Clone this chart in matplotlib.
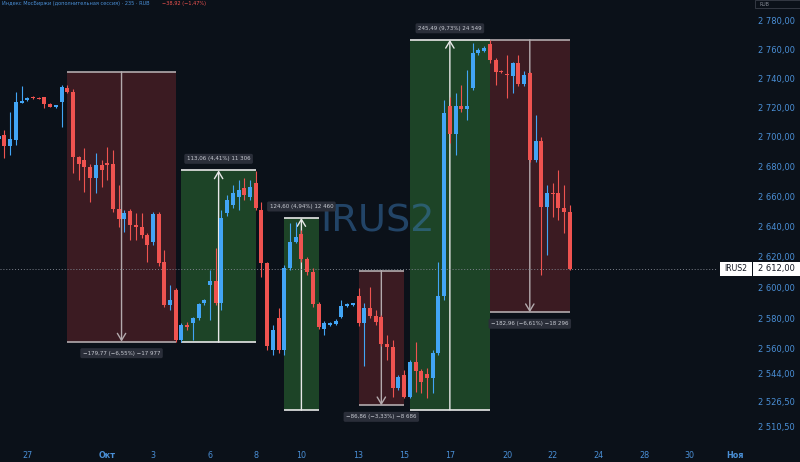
import matplotlib.pyplot as plt
from matplotlib.patches import Rectangle
from matplotlib.ticker import FixedLocator, FuncFormatter, NullLocator

# bars (one per candle, left to right)
opens = [2698.5, 2701.4, 2693.9, 2698.0, 2723.4, 2725.2, 2727.4, 2726.8, 2727.0, 2722.5,
         2720.7, 2724.0, 2733.6, 2730.8, 2686.3, 2684.5, 2680.0, 2672.2, 2681.1, 2682.3,
         2681.6, 2651.7, 2644.8, 2650.3, 2641.0, 2639.9, 2634.4, 2629.9, 2648.5, 2616.4,
         2588.5, 2598.2, 2565.9, 2575.5, 2576.7, 2579.9, 2589.6, 2601.5, 2604.3, 2589.6,
         2649.0, 2654.3, 2659.6, 2665.6, 2659.8, 2668.9, 2651.0, 2615.7, 2559.4, 2579.9,
         2559.4, 2612.4, 2629.9, 2635.1, 2618.4, 2610.2, 2589.1, 2572.8, 2575.5, 2576.2,
         2580.9, 2587.8, 2588.5, 2594.3, 2576.7, 2586.7, 2581.3, 2580.5, 2563.3, 2561.6,
         2534.9, 2543.4, 2529.5, 2551.9, 2546.0, 2544.0, 2541.2, 2557.3, 2594.3, 2721.1,
         2702.1, 2721.1, 2718.9, 2733.2, 2757.4, 2759.2, 2763.7, 2752.7, 2745.1, 2743.0,
         2741.5, 2750.4, 2736.2, 2743.5, 2684.5, 2697.5, 2653.2, 2662.1, 2662.1, 2652.1,
         2649.9]
highs = [2702.8, 2704.8, 2717.2, 2730.8, 2734.8, 2727.0, 2727.9, 2727.0, 2727.3, 2722.8,
         2721.3, 2735.5, 2735.5, 2732.5, 2687.1, 2692.3, 2681.8, 2689.0, 2684.5, 2693.4,
         2691.2, 2667.7, 2651.0, 2651.7, 2649.0, 2649.0, 2635.7, 2649.7, 2649.7, 2624.4,
         2601.5, 2599.5, 2576.9, 2577.5, 2580.8, 2589.8, 2592.4, 2611.3, 2625.5, 2651.0,
         2661.0, 2667.7, 2671.1, 2672.4, 2671.1, 2677.1, 2656.5, 2616.6, 2575.5, 2586.5,
         2614.6, 2642.1, 2643.2, 2637.7, 2619.9, 2612.6, 2590.4, 2578.2, 2577.5, 2579.4,
         2591.7, 2589.8, 2589.8, 2599.3, 2589.6, 2600.3, 2585.2, 2582.0, 2569.1, 2565.9,
         2543.4, 2546.6, 2553.0, 2564.8, 2547.2, 2547.9, 2559.4, 2616.8, 2725.2, 2727.4,
         2729.8, 2735.2, 2745.8, 2764.4, 2761.0, 2762.3, 2766.7, 2754.1, 2745.8, 2756.2,
         2751.6, 2756.2, 2745.3, 2744.4, 2715.0, 2700.2, 2667.7, 2669.0, 2677.8, 2667.7,
         2654.3]
lows = [2696.6, 2685.6, 2687.8, 2694.6, 2723.0, 2724.7, 2725.9, 2725.7, 2719.6, 2720.1,
        2719.6, 2707.1, 2729.9, 2675.6, 2671.1, 2663.2, 2656.5, 2662.1, 2666.5, 2671.1,
        2649.7, 2639.9, 2636.6, 2631.0, 2631.0, 2632.3, 2616.8, 2627.7, 2614.0, 2587.2,
        2585.2, 2564.6, 2564.6, 2572.3, 2565.9, 2578.8, 2588.5, 2578.8, 2588.5, 2585.2,
        2647.0, 2652.3, 2651.0, 2657.6, 2657.6, 2651.0, 2607.0, 2559.4, 2556.2, 2557.5,
        2556.2, 2611.3, 2629.0, 2616.6, 2608.0, 2587.2, 2573.0, 2569.1, 2574.9, 2575.5,
        2580.1, 2587.2, 2588.1, 2574.9, 2549.2, 2580.1, 2575.5, 2562.0, 2553.0, 2529.5,
        2533.8, 2528.7, 2528.7, 2532.7, 2531.7, 2528.7, 2531.9, 2556.2, 2591.7, 2696.0,
        2687.8, 2717.0, 2711.6, 2732.0, 2756.2, 2758.3, 2750.4, 2735.5, 2743.5, 2726.3,
        2729.8, 2734.8, 2734.8, 2683.2, 2683.2, 2608.0, 2621.1, 2646.5, 2644.3, 2635.5,
        2611.0]
closes = [2700.7, 2693.9, 2698.7, 2723.6, 2724.7, 2726.8, 2726.4, 2726.1, 2722.3, 2720.7,
          2721.3, 2734.3, 2730.4, 2686.3, 2681.8, 2680.0, 2672.2, 2681.1, 2677.8, 2680.9,
          2651.7, 2644.8, 2648.8, 2641.0, 2639.9, 2634.4, 2627.7, 2648.1, 2615.7, 2588.5,
          2591.7, 2565.9, 2575.5, 2574.1, 2579.9, 2589.1, 2591.7, 2604.3, 2589.6, 2645.6,
          2657.6, 2662.3, 2664.3, 2661.0, 2666.5, 2652.1, 2615.7, 2561.9, 2572.3, 2559.4,
          2612.4, 2629.9, 2633.2, 2618.4, 2610.2, 2589.1, 2574.5, 2576.7, 2576.7, 2578.3,
          2587.8, 2589.1, 2589.6, 2576.7, 2586.7, 2581.3, 2577.3, 2563.3, 2561.6, 2534.9,
          2541.9, 2529.5, 2551.9, 2546.0, 2539.1, 2541.2, 2557.3, 2594.3, 2716.2, 2702.1,
          2721.1, 2718.9, 2721.1, 2757.8, 2759.6, 2761.2, 2752.7, 2744.6, 2744.4, 2742.3,
          2750.4, 2736.2, 2742.4, 2684.5, 2697.5, 2653.2, 2662.1, 2661.4, 2652.1, 2649.9,
          2612.0]

price_ticks = [2510.5, 2526.5, 2544, 2560, 2580, 2600, 2620, 2640, 2660, 2680,
               2700, 2720, 2740, 2760, 2780]
date_pos = [5, 19, 27, 37, 45, 53, 63, 71, 79, 89, 97, 105, 113, 121, 129]
date_labels = ['27', 'Окт', '3', '6', '8', '10', '13', '15', '17', '20', '22', '24',
               '28', '30', 'Ноя']

# measuring ranges drawn on the chart
box_start = [12, 32, 50, 63, 72, 86]
box_end = [31, 45, 56, 71, 86, 100]
box_from = [2744.5, 2564.4, 2521.0, 2610.9, 2521.2, 2766.7]
box_change = [-179.77, 113.06, 124.60, -86.86, 245.49, -182.96]
box_text = ['−179,77 (−6,55%) −17 977', '113,06 (4,41%) 11 306', '124,60 (4,94%) 12 460',
            '−86,86 (−3,33%) −8 686', '245,49 (9,73%) 24 549', '−182,96 (−6,61%) −18 296']

BG = '#0b1119'
UP = '#42a5f5'
DOWN = '#ef5350'
AXIS_TXT = '#4a8fd6'

fig = plt.figure(figsize=(8, 4.62), dpi=100, facecolor=BG)
ax = fig.add_axes([0, 20 / 462, 718 / 800, 442 / 462], facecolor=BG)
for s in ax.spines.values():
    s.set_visible(False)

ax.set_yscale('log')
ax.set_xlim(0.214, 125.96)
ax.set_ylim(2500.9, 2794.5)

# range boxes
for s, e, p0, d, t in zip(box_start, box_end, box_from, box_change, box_text):
    p1 = p0 + d
    up = d > 0
    lo, hi = min(p0, p1), max(p0, p1)
    ax.add_patch(Rectangle((s, lo), e - s, hi - lo, fc='#1d4427' if up else '#3b1b22',
                           ec='none', zorder=1))
    edge = '#e8e8e8' if up else '#b3aaad'
    ax.hlines([lo, hi], s, e, colors=edge, lw=1.2, zorder=2)
    xm = (s + e) / 2
    ax.annotate('', xy=(xm, p1), xytext=(xm, p0),
                arrowprops=dict(arrowstyle='->,head_length=0.5,head_width=0.3',
                                color=edge, lw=1, shrinkA=0, shrinkB=0), zorder=2)
    ax.annotate(t, xy=(xm, p1), xytext=(0, 8.3 if up else -8.3), textcoords='offset points',
                ha='center', va='center', fontsize=4.0, color='#c8cbd3', zorder=6,
                bbox=dict(boxstyle='round,pad=0.45,rounding_size=0.3', fc='#2a2e39', ec='none'))

# watermark
ax.text(0.526, 0.50, 'IRUS2', transform=ax.transAxes, ha='center', va='center',
        fontsize=27.5, color='#3a78b5', alpha=0.5, zorder=1.5)

# candles
xs = list(range(len(opens)))
cols = [UP if c >= o else DOWN for o, c in zip(opens, closes)]
bottoms = [min(o, c) for o, c in zip(opens, closes)]
heights = [max(abs(c - o), 0.8) for o, c in zip(opens, closes)]
ax.vlines(xs, lows, highs, colors=cols, lw=0.8, zorder=2.9)
ax.bar(xs, heights, bottom=bottoms, width=0.7, color=cols, zorder=3)

# last price line
last = closes[-1]
ax.axhline(last, color='#7d828c', lw=0.7, ls=(0, (1, 2)), zorder=2.5)

# price scale
ax.yaxis.tick_right()
ax.yaxis.set_major_locator(FixedLocator(price_ticks))
ax.yaxis.set_minor_locator(NullLocator())
ax.yaxis.set_major_formatter(FuncFormatter(
    lambda v, p: f'{v:,.2f}'.replace(',', ' ').replace('.', ',')))
ax.tick_params(axis='y', length=0, pad=55.4, labelcolor=AXIS_TXT, labelsize=6)
plt.setp(ax.get_yticklabels(), ha='right')

# time scale
ax.set_xticks([])
for xp, lb in zip(date_pos, date_labels):
    ax.text(xp, -14 / 442, lb, transform=ax.get_xaxis_transform(), ha='center', va='center',
            fontsize=5.8, color=AXIS_TXT, clip_on=False,
            fontweight='bold' if lb in ('Окт', 'Ноя') else 'normal')
ax.minorticks_off()
ax.yaxis.set_minor_locator(NullLocator())

# last price tags
_, ypix = ax.transData.transform((0, last))
yf = ypix / fig.bbox.height
hh = 14 / 462
fig.add_artist(Rectangle((720 / 800, yf - hh / 2), 32 / 800, hh, transform=fig.transFigure,
                         fc='white', ec='none'))
fig.add_artist(Rectangle((752.5 / 800, yf - hh / 2), 47.5 / 800, hh, transform=fig.transFigure,
                         fc='white', ec='none'))
fig.text(736 / 800, yf, 'IRUS2', ha='center', va='center', fontsize=5.6, color='#131722')
fig.text(776 / 800, yf, f'{last:,.2f}'.replace(',', ' ').replace('.', ','),
         ha='center', va='center', fontsize=6, color='#131722')

# header
fig.text(2 / 800, 1 - 4.5 / 462, 'Индекс МосБиржи (дополнительная сессия) · 235 · RUB',
         fontsize=3.6, color=AXIS_TXT, va='baseline')
fig.text(162 / 800, 1 - 4.5 / 462, '−38,92 (−1,47%)', fontsize=3.6, color=DOWN, va='baseline')
fig.add_artist(Rectangle((755 / 800, 1 - 8 / 462), 45 / 800, 8 / 462, transform=fig.transFigure,
                         fc=BG, ec='#3a3f4a', lw=0.6))
fig.text(760 / 800, 1 - 4 / 462, 'RUB', fontsize=3.4, color='#8a8f99', va='center')

fig.savefig('out.png', dpi=100, facecolor=BG)
